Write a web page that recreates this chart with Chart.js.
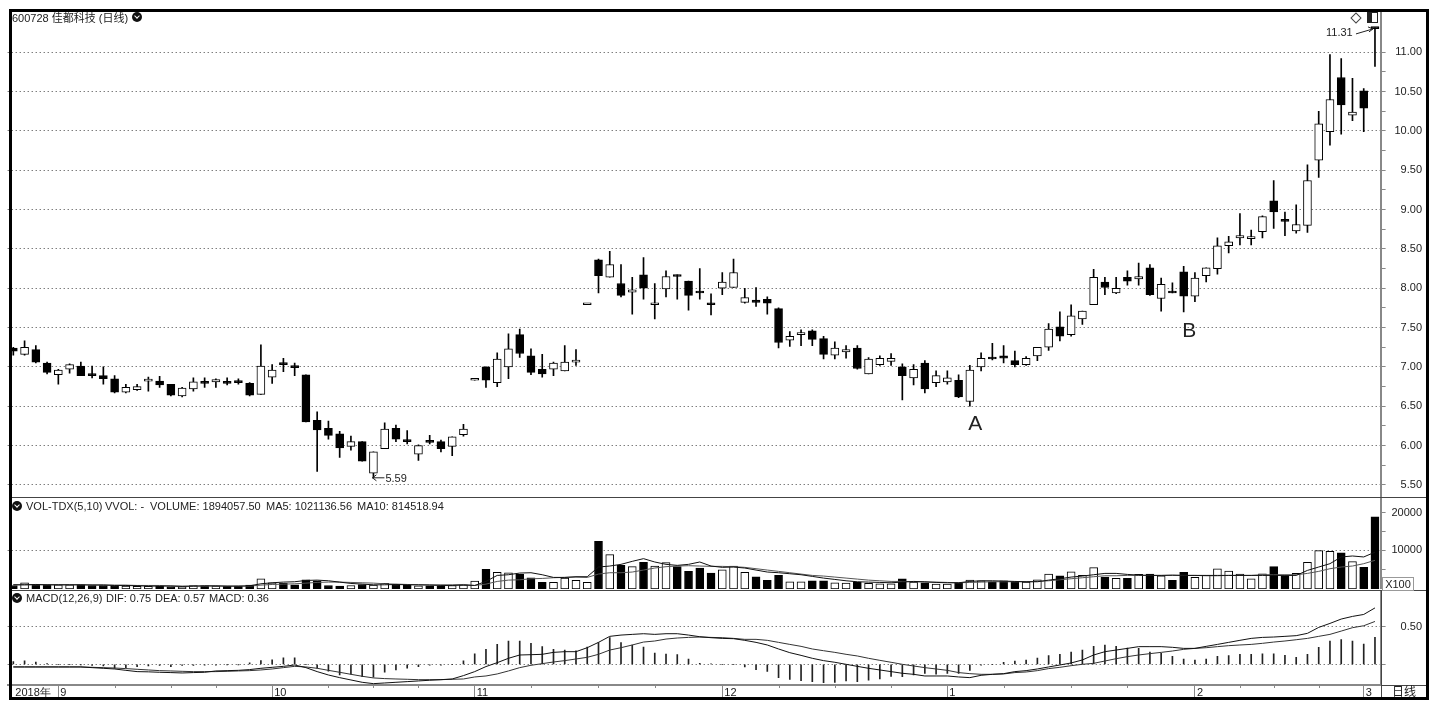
<!DOCTYPE html>
<html>
<head>
<meta charset="utf-8">
<title>600728</title>
<script src="https://cdn.jsdelivr.net/npm/chart.js@4"></script>
<style>
  html, body { margin: 0; padding: 0; background: #fff; }
  #stage { position: relative; width: 1442px; height: 715px; overflow: hidden; font: 11px "Liberation Sans", "Noto Sans CJK SC", sans-serif; color: #222; }
  canvas { position: absolute; left: 0; }
  #frame { position: absolute; left: 9px; top: 9px; width: 1414px; height: 685px; border: 3px solid #000; }
  .line { position: absolute; background: #444; }
  .txt { position: absolute; white-space: pre; line-height: 13px; }
  .dot { position: absolute; width: 10px; height: 10px; border-radius: 5px; background: #111; }
  .dot::after { content: ""; position: absolute; left: 3px; top: 2px; width: 3px; height: 3px; border-right: 1px solid #fff; border-bottom: 1px solid #fff; transform: rotate(45deg); }
  #diamond { position: absolute; left: 1352px; top: 14px; width: 6px; height: 6px; border: 1px solid #444; transform: rotate(45deg); }
  #panelIcon { position: absolute; left: 1367px; top: 12px; width: 9px; height: 9px; border: 1px solid #222; border-right: 1px solid #222; }
  #panelIcon::before { content: ""; position: absolute; left: 0; top: 0; width: 4px; height: 9px; background: #222; }
  #x100 { position: absolute; left: 1382px; top: 577px; width: 30px; height: 12px; border: 1px solid #999; text-align: center; line-height: 12px; }
</style>
</head>
<body>
<div id="stage">
  <canvas id="priceChart" style="top:11px" width="1442" height="486"></canvas>
  <canvas id="volChart" style="top:498px" width="1442" height="91"></canvas>
  <canvas id="macdChart" style="top:591px" width="1442" height="108"></canvas>

  <div class="line" style="left:11px;top:497px;width:1415px;height:1px"></div>
  <div class="line" style="left:11px;top:590px;width:1415px;height:1px"></div>
  <div class="line" style="left:1381px;top:590px;width:1px;height:108px"></div>
  <div class="line" style="left:1381px;top:685px;width:45px;height:1px"></div>

  <div class="txt" style="left:12px;top:12px">600728 佳都科技 (日线)</div>
  <div class="dot" style="left:132px;top:12px"></div>
  <div class="dot" style="left:12px;top:501px"></div>
  <div class="txt" style="left:26px;top:500px">VOL-TDX(5,10)</div>
  <div class="txt" style="left:105px;top:500px">VVOL: -</div>
  <div class="txt" style="left:150px;top:500px">VOLUME: 1894057.50</div>
  <div class="txt" style="left:266px;top:500px">MA5: 1021136.56</div>
  <div class="txt" style="left:357px;top:500px">MA10: 814518.94</div>
  <div class="dot" style="left:12px;top:593px"></div>
  <div class="txt" style="left:26px;top:592px">MACD(12,26,9)</div>
  <div class="txt" style="left:106px;top:592px">DIF: 0.75</div>
  <div class="txt" style="left:155px;top:592px">DEA: 0.57</div>
  <div class="txt" style="left:209px;top:592px">MACD: 0.36</div>
  <div class="txt" style="left:1392px;top:686px;font-size:12px">日线</div>
  <div id="x100">X100</div>
  <div id="diamond"></div>
  <div id="panelIcon"></div>
  <div id="frame"></div>
</div>

<script>
const opens = [
  7.24,7.16,7.22,7.05,6.90,6.97,7.01,6.90,6.89,6.85,6.68,6.71,6.82,6.82,6.78,6.63,6.72,6.80,6.81,6.81,
  6.81,6.79,6.65,6.87,7.05,7.00,6.90,6.32,6.22,6.15,5.99,6.05,5.65,5.96,6.22,6.06,5.89,6.05,6.05,5.99,
  6.14,6.83,7.00,6.80,7.00,7.41,7.14,6.97,6.97,6.95,7.06,7.79,8.36,8.14,8.06,7.95,8.17,7.79,7.99,8.16,
  8.09,7.95,7.81,8.00,8.01,7.82,7.85,7.86,7.74,7.34,7.41,7.46,7.36,7.15,7.19,7.24,6.91,7.03,7.07,7.00,
  6.86,7.05,6.80,6.81,6.83,6.56,7.00,7.11,7.14,7.08,7.03,7.14,7.25,7.51,7.41,7.61,7.79,8.08,7.94,8.14,
  8.12,8.26,7.87,7.95,8.21,7.90,8.16,8.25,8.54,8.64,8.63,8.72,9.11,8.86,8.73,8.80,9.63,9.99,10.68,10.20,
  10.51,11.31
];
const closes = [
  7.20,7.25,7.06,6.93,6.96,7.03,6.89,6.89,6.85,6.68,6.74,6.75,6.82,6.77,6.64,6.73,6.81,6.79,6.84,6.79,
  6.80,6.64,7.01,6.96,7.03,6.99,6.30,6.20,6.13,5.97,6.05,5.80,5.92,6.21,6.08,6.05,6.00,6.04,5.96,6.11,
  6.21,6.83,6.83,7.10,7.23,7.17,6.93,6.91,7.05,7.06,7.08,7.79,8.16,8.30,7.91,7.98,8.00,7.81,8.15,8.15,
  7.91,7.94,7.79,8.08,8.20,7.88,7.82,7.81,7.31,7.39,7.41,7.35,7.16,7.24,7.22,6.98,7.10,7.11,7.11,6.89,
  6.97,6.72,6.89,6.86,6.62,6.96,7.11,7.10,7.11,7.03,7.11,7.25,7.48,7.39,7.65,7.71,8.14,8.01,8.00,8.09,
  8.15,7.92,8.05,7.94,7.90,8.13,8.26,8.54,8.59,8.67,8.63,8.91,8.97,8.85,8.81,9.37,10.09,10.40,10.33,10.24,
  10.29,11.30
];
const highs = [
  7.25,7.33,7.27,7.06,6.97,7.04,7.06,7.01,7.00,6.89,6.78,6.78,6.87,6.88,6.78,6.74,6.86,6.86,6.85,6.86,
  6.85,6.80,7.28,7.03,7.11,7.05,6.90,6.43,6.31,6.18,6.12,6.05,5.92,6.29,6.26,6.19,6.01,6.13,6.07,6.11,
  6.27,6.83,7.00,7.18,7.42,7.48,7.23,7.16,7.06,7.27,7.22,7.79,8.37,8.47,8.30,8.14,8.39,8.06,8.22,8.17,
  8.09,8.25,7.93,8.20,8.37,8.00,8.01,7.89,7.75,7.45,7.47,7.47,7.39,7.32,7.27,7.27,7.12,7.14,7.17,7.04,
  7.03,7.08,6.95,6.95,6.90,7.02,7.18,7.30,7.27,7.20,7.13,7.25,7.55,7.70,7.79,7.71,8.24,8.14,8.14,8.22,
  8.32,8.30,8.13,8.07,8.28,8.20,8.26,8.64,8.66,8.95,8.74,8.92,9.37,8.97,9.06,9.57,10.25,10.97,10.92,10.67,
  10.54,11.31
];
const lows = [
  7.15,7.15,7.05,6.91,6.78,6.92,6.89,6.86,6.78,6.67,6.67,6.70,6.69,6.74,6.63,6.62,6.69,6.74,6.74,6.77,
  6.78,6.63,6.65,6.79,6.94,6.89,6.30,5.67,6.08,5.85,5.94,5.80,5.59,5.96,6.05,6.02,5.81,6.02,5.92,5.87,
  6.12,6.83,6.74,6.75,6.85,7.12,6.90,6.87,6.89,6.95,7.02,7.79,7.94,8.14,7.89,7.67,7.86,7.61,7.89,7.86,
  7.72,7.86,7.66,7.92,8.01,7.81,7.77,7.67,7.24,7.26,7.27,7.27,7.10,7.10,7.11,6.97,6.91,7.02,7.02,6.58,
  6.77,6.67,6.75,6.78,6.61,6.50,6.95,7.09,7.05,7.00,7.02,7.08,7.21,7.33,7.39,7.54,7.79,7.92,7.93,8.04,
  8.04,7.91,7.71,7.94,7.70,7.83,8.08,8.18,8.45,8.55,8.55,8.64,8.76,8.67,8.70,8.71,9.41,9.82,9.96,10.13,
  9.99,10.82
];

const volumes = [
  625,1340,800,800,800,800,800,625,625,625,450,360,360,450,270,270,625,535,450,360,
  450,715,2410,1340,1160,800,2140,1875,625,450,625,890,715,1160,890,800,535,535,450,625,
  800,1790,4900,4100,4000,3570,2680,1430,1430,2590,1960,1430,12400,8840,5980,5630,6790,5800,6700,5630,
  4380,5270,3930,4820,5800,4110,2950,1960,3300,1610,1610,1875,1875,1340,1250,1430,1160,1070,1070,2410,
  1520,1340,980,980,1340,2050,1875,1610,1875,1430,1520,2140,3660,3210,4290,3300,5360,2860,2500,2500,
  3570,3660,3210,1960,4110,2770,3300,5090,4470,3660,2410,3750,5630,3210,3840,6790,9910,9730,9290,6970,
  5450,18940
];
const volMa5 = [
  800,800,890,800,800,800,800,715,715,625,625,535,450,450,450,360,450,535,535,450,
  450,535,1070,1340,1520,1610,1960,2050,1875,1520,1160,980,800,800,890,800,800,715,625,625,
  715,625,1700,3300,3480,3930,4020,3480,2770,2770,2950,2950,5540,5800,6250,7050,7770,6880,6250,5980,
  6250,6880,5800,5450,5540,5270,4730,4200,4020,3750,3480,3040,2590,2230,1875,1610,1520,1430,1340,1520,
  1700,1610,1430,1340,1340,1700,1875,1875,1790,1700,1610,1610,2050,2410,2860,3130,3480,3840,3840,3570,
  3390,3300,3300,3390,3300,3300,3300,3300,3300,3300,3300,3300,3300,3300,3300,4640,5540,6430,8220,8480,
  8220,9500
];
const volMa10 = [
  800,800,800,800,800,800,800,800,800,715,715,625,625,625,535,450,450,450,450,450,
  450,450,715,890,980,1070,1250,1430,1520,1520,1430,1340,1250,1070,980,890,800,800,800,800,
  890,625,980,1700,2050,2140,2410,2500,2680,2770,2860,2770,3660,4020,4020,4200,4730,5270,5630,5800,
  5890,5800,5710,5710,5630,5450,5090,4730,4380,4020,3660,3300,3130,2860,2590,2320,2050,1875,1700,1700,
  1610,1520,1520,1430,1340,1430,1520,1610,1610,1610,1610,1700,1875,2140,2410,2680,2950,3210,3210,3300,
  3300,3300,3300,3300,3300,3300,3210,3210,3300,3300,3300,3480,3480,3480,3480,3840,4380,5090,5540,5800,
  6430,7320
];

const macdBars = [
  .035,.045,.03,.01,0,0,-.005,-.015,-.02,-.05,-.045,-.03,-.02,-.015,-.03,-.015,-.015,-.01,-.01,-.005,
  -.005,.02,.05,.06,.085,.085,0,-.05,-.09,-.14,-.13,-.165,-.17,-.105,-.075,-.05,-.03,-.01,-.01,0,
  .045,.14,.20,.265,.31,.31,.28,.235,.20,.19,.18,.23,.29,.355,.29,.257,.23,.15,.137,.128,
  .07,.013,.004,0,0,-.035,-.07,-.093,-.177,-.20,-.217,-.23,-.243,-.24,-.22,-.23,-.21,-.195,-.16,-.165,
  -.14,-.12,-.13,-.12,-.12,-.08,-.01,0,.027,.044,.057,.084,.115,.133,.164,.19,.24,.257,.24,.217,
  .212,.164,.146,.106,.07,.057,.07,.106,.115,.133,.133,.14,.14,.12,.093,.133,.226,.31,.33,.31,
  .27,.36
];
const dif = [
  -.035,-.035,-.035,-.035,-.035,-.035,-.035,-.044,-.053,-.062,-.08,-.097,-.10,-.106,-.11,-.115,-.11,-.106,-.088,-.084,
  -.08,-.07,-.053,-.04,-.027,-.009,-.044,-.097,-.142,-.177,-.208,-.239,-.257,-.248,-.239,-.23,-.221,-.212,-.204,-.195,
  -.15,-.097,-.03,.022,.08,.124,.128,.133,.159,.168,.168,.221,.292,.372,.389,.398,.407,.398,.407,.407,
  .389,.367,.354,.345,.341,.319,.292,.257,.204,.155,.119,.08,.049,.027,0,-.027,-.053,-.075,-.097,-.119,
  -.133,-.155,-.155,-.155,-.168,-.177,-.146,-.133,-.124,-.097,-.084,-.062,-.035,-.009,.018,.058,.124,.168,.19,.212,
  .235,.235,.235,.226,.212,.212,.239,.265,.292,.319,.345,.358,.363,.372,.381,.412,.491,.544,.602,.637,
  .663,.75
];
const dea = [
  -.035,-.035,-.035,-.035,-.035,-.035,-.035,-.04,-.044,-.049,-.057,-.066,-.075,-.084,-.088,-.093,-.097,-.097,-.097,-.093,
  -.088,-.084,-.075,-.062,-.044,-.027,-.035,-.053,-.08,-.106,-.133,-.159,-.181,-.19,-.195,-.199,-.204,-.204,-.204,-.199,
  -.195,-.168,-.155,-.128,-.088,-.044,-.013,.009,.031,.049,.071,.093,.133,.19,.221,.257,.296,.31,.336,.35,
  .358,.363,.358,.354,.345,.332,.332,.319,.292,.265,.239,.204,.181,.159,.133,.111,.08,.053,.027,0,
  -.022,-.044,-.062,-.08,-.11,-.124,-.133,-.133,-.128,-.11,-.102,-.084,-.057,-.04,-.018,0,.013,.044,.075,.102,
  .124,.142,.159,.177,.199,.212,.221,.235,.248,.257,.265,.279,.296,.31,.327,.345,.372,.398,.442,.487,
  .513,.57
];

const priceTicks = [11, 10.5, 10, 9.5, 9, 8.5, 8, 7.5, 7, 6.5, 6, 5.5];
const priceMinor = [10.75, 10.25, 9.75, 9.25, 8.75, 8.25, 7.75, 7.25, 6.75, 6.25, 5.75];
const volTicks = [20000, 10000];
const volMinor = [15000, 5000];
const macdTicks = [0.5];
const monthIndex = [0, 4, 23, 41, 63, 83, 105, 120];
const monthNames = ["2018年", "9", "10", "11", "12", "1", "2", "3"];
const minorDays = [9, 14, 18, 28, 32, 36, 46, 52, 57, 68, 73, 78, 88, 94, 99, 109, 112, 116];

const days = opens.map((_, i) => i);
const PRICE_MIN = 5.346, PRICE_MAX = 11.525;
const VOL_MIN = -320, VOL_MAX = 23940;

Chart.defaults.font.family = '"Liberation Sans", sans-serif';
Chart.defaults.font.size = 11;
Chart.defaults.color = "#222";
Chart.defaults.animation = false;
Chart.defaults.responsive = false;
Chart.defaults.plugins.legend.display = false;
Chart.defaults.plugins.tooltip.enabled = false;

const GRID_DOT = "#444";
const AXIS_GRAY = "#888";
const PANEL_PADDING = { left: 7.7, right: 20 };

function fmt(value) {
  return value.toFixed(2);
}

// right hand axis shared by the three panels
function rightAxis(min, max, major, minor, gridValues, label) {
  return {
    position: "right",
    min: min,
    max: max,
    afterBuildTicks: (scale) => {
      scale.ticks = major.concat(minor).map((v) => ({ value: v }));
    },
    afterFit: (scale) => {
      scale.width = 41.4;
      scale.paddingTop = 0;
      scale.paddingBottom = 0;
    },
    border: { color: AXIS_GRAY, width: 2, dash: [1, 3] },
    grid: {
      color: (ctx) => (gridValues.includes(ctx.tick && ctx.tick.value) ? GRID_DOT : "transparent"),
      tickColor: AXIS_GRAY,
      tickLength: 5,
      tickBorderDash: [],
    },
    ticks: {
      autoSkip: false,
      maxRotation: 0,
      crossAlign: "far",
      padding: 0,
      callback: (v) => (major.includes(v) ? label(v) : ""),
    },
  };
}

const hiddenX = { display: false, offset: true };

function upColor(i) {
  return closes[i] >= opens[i] ? "#fff" : "#000";
}

// labels and arrows tied to a bar
const noteLabels = {
  id: "noteLabels",
  afterDatasetsDraw(chart) {
    const x = chart.scales.x, y = chart.scales.y, ctx = chart.ctx;
    ctx.save();
    ctx.fillStyle = "#222";
    ctx.strokeStyle = "#222";
    ctx.textBaseline = "middle";
    ctx.lineWidth = 1;

    ctx.font = '21px "Liberation Sans", sans-serif';
    ctx.textAlign = "center";
    ctx.fillText("A", x.getPixelForValue(85) + 5.5, y.getPixelForValue(6.27));
    ctx.fillText("B", x.getPixelForValue(104) + 5.5, y.getPixelForValue(7.46));

    ctx.font = '11px "Liberation Sans", sans-serif';
    ctx.textAlign = "left";
    const lowX = x.getPixelForValue(32), lowY = y.getPixelForValue(5.59);
    ctx.fillText("5.59", lowX + 12, lowY + 1);
    ctx.beginPath();
    ctx.moveTo(lowX + 11, lowY);
    ctx.lineTo(lowX - 1, lowY);
    ctx.moveTo(lowX + 3, lowY - 3);
    ctx.lineTo(lowX - 1, lowY);
    ctx.lineTo(lowX + 3, lowY + 3);
    ctx.stroke();

    const topX = x.getPixelForValue(121), topY = y.getPixelForValue(11.31);
    ctx.fillText("11.31", topX - 49, topY + 5);
    ctx.beginPath();
    ctx.moveTo(topX - 19, topY + 6);
    ctx.lineTo(topX - 2, topY + 1);
    ctx.moveTo(topX - 7, topY - 1);
    ctx.lineTo(topX - 2, topY + 1);
    ctx.lineTo(topX - 6, topY + 4);
    ctx.stroke();
    ctx.restore();
  },
};

// short marks on the date axis
const dayMarks = {
  id: "dayMarks",
  afterDraw(chart) {
    const x = chart.scales.x, ctx = chart.ctx;
    ctx.save();
    ctx.strokeStyle = AXIS_GRAY;
    ctx.beginPath();
    minorDays.forEach((d) => {
      const px = Math.round(x.getPixelForValue(d)) + 0.5;
      ctx.moveTo(px, x.top);
      ctx.lineTo(px, x.top + 3);
    });
    ctx.stroke();
    ctx.restore();
  },
};

new Chart(document.getElementById("priceChart"), {
  type: "bar",
  data: {
    labels: days,
    datasets: [
      {
        data: days.map((i) => [lows[i], highs[i]]),
        barThickness: 1,
        backgroundColor: "#000",
        grouped: false,
        order: 2,
      },
      {
        data: days.map((i) => [opens[i], closes[i]]),
        barThickness: 8,
        minBarLength: 2,
        backgroundColor: days.map(upColor),
        borderColor: "#000",
        borderWidth: 1,
        borderSkipped: false,
        grouped: false,
        order: 1,
      },
    ],
  },
  options: {
    layout: { padding: PANEL_PADDING },
    scales: {
      x: hiddenX,
      y: rightAxis(PRICE_MIN, PRICE_MAX, priceTicks, priceMinor, priceTicks, fmt),
    },
  },
  plugins: [noteLabels],
});

new Chart(document.getElementById("volChart"), {
  data: {
    labels: days,
    datasets: [
      {
        type: "bar",
        data: volumes,
        base: VOL_MIN,
        barThickness: 8,
        backgroundColor: days.map(upColor),
        borderColor: "#000",
        borderWidth: 1,
        borderSkipped: false,
        order: 3,
      },
      { type: "line", data: volMa5, borderColor: "#111", borderWidth: 1, pointRadius: 0, order: 1 },
      { type: "line", data: volMa10, borderColor: "#555", borderWidth: 1, pointRadius: 0, order: 2 },
    ],
  },
  options: {
    layout: { padding: PANEL_PADDING },
    scales: {
      x: hiddenX,
      y: rightAxis(VOL_MIN, VOL_MAX, volTicks, volMinor, [10000], (v) => String(v)),
    },
  },
});

new Chart(document.getElementById("macdChart"), {
  data: {
    labels: days,
    datasets: [
      { type: "bar", data: macdBars, barThickness: 1, backgroundColor: "#222", order: 3 },
      { type: "line", data: dif, borderColor: "#111", borderWidth: 1, pointRadius: 0, order: 1 },
      { type: "line", data: dea, borderColor: "#333", borderWidth: 1, pointRadius: 0, order: 2 },
    ],
  },
  options: {
    layout: { padding: PANEL_PADDING },
    scales: {
      x: {
        offset: true,
        afterBuildTicks: (scale) => {
          scale.ticks = monthIndex.map((i) => ({ value: i }));
        },
        afterFit: (scale) => {
          scale.height = 14;
          scale.paddingLeft = 0;
          scale.paddingRight = 0;
        },
        border: { color: AXIS_GRAY, width: 2 },
        grid: {
          offset: false,
          drawOnChartArea: false,
          tickLength: 13,
          tickColor: (ctx) => (ctx.tick && ctx.tick.value === 0 ? "transparent" : AXIS_GRAY),
        },
        ticks: {
          autoSkip: false,
          maxRotation: 0,
          align: "start",
          labelOffset: 2,
          padding: -12,
          callback: (v) => {
            const at = monthIndex.indexOf(v);
            return at < 0 ? "" : monthNames[at];
          },
        },
      },
      y: rightAxis(-0.275, 0.975, macdTicks.concat([0]), [], [0.5, 0], (v) => (v ? fmt(v) : "")),
    },
  },
  plugins: [dayMarks],
});
</script>
</body>
</html>
